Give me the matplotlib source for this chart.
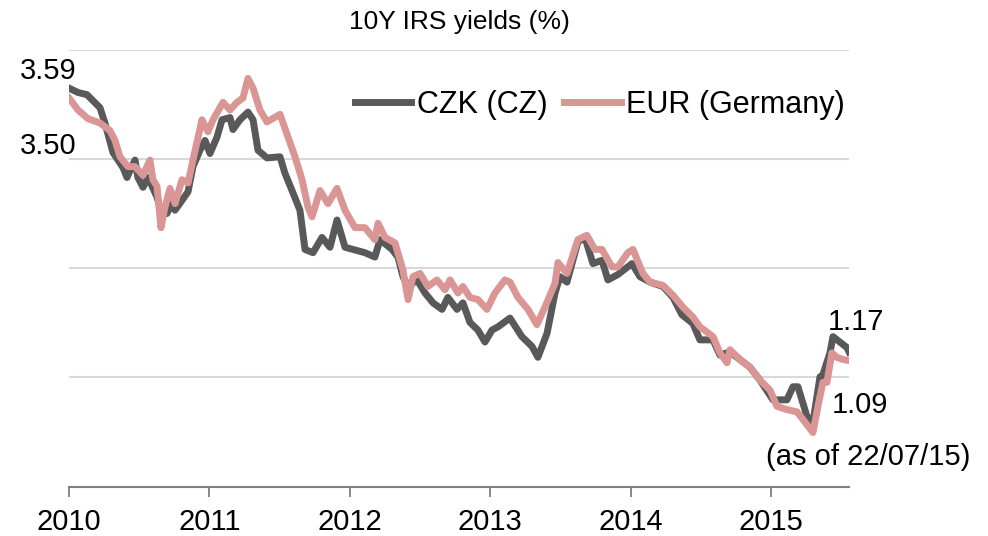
import matplotlib
matplotlib.use("Agg")
import matplotlib.pyplot as plt

plt.rcParams['font.family'] = ['Liberation Sans', 'DejaVu Sans']

# time in years since 1 Jan 2010, yields in %
czk_t = [0.000, 0.064, 0.128, 0.221, 0.256, 0.313, 0.385, 0.413, 0.470, 0.491,
         0.527, 0.563, 0.627, 0.662, 0.698, 0.734, 0.755, 0.805, 0.848, 0.883,
         0.933, 0.969, 1.004, 1.054, 1.090, 1.147, 1.168, 1.218, 1.275, 1.311,
         1.346, 1.410, 1.503, 1.538, 1.595, 1.645, 1.681, 1.738, 1.802, 1.859,
         1.909, 1.966, 2.023, 2.108, 2.179, 2.215, 2.301, 2.343, 2.379, 2.415,
         2.479, 2.536, 2.593, 2.657, 2.699, 2.764, 2.806, 2.856, 2.913, 2.963,
         3.013, 3.056, 3.141, 3.226, 3.298, 3.340, 3.405, 3.462, 3.497, 3.547,
         3.625, 3.675, 3.732, 3.796, 3.839, 3.910, 4.010, 4.067, 4.138, 4.231,
         4.302, 4.366, 4.444, 4.494, 4.587, 4.637, 4.708, 4.779, 4.850, 4.922,
         5.014, 5.114, 5.157, 5.192, 5.256, 5.299, 5.349, 5.370, 5.420, 5.442,
         5.491, 5.541, 5.556]
czk_v = [3.59, 3.55, 3.53, 3.41, 3.27, 3.00, 2.86, 2.77, 2.93, 2.77,
         2.68, 2.77, 2.59, 2.43, 2.44, 2.54, 2.47, 2.56, 2.64, 2.87,
         3.02, 3.11, 2.99, 3.14, 3.30, 3.32, 3.21, 3.30, 3.37, 3.30,
         3.02, 2.95, 2.96, 2.81, 2.63, 2.47, 2.11, 2.08, 2.22, 2.13,
         2.38, 2.13, 2.11, 2.08, 2.04, 2.20, 2.11, 2.04, 1.86, 1.77,
         1.83, 1.71, 1.62, 1.56, 1.67, 1.56, 1.62, 1.44, 1.37, 1.26,
         1.37, 1.40, 1.48, 1.31, 1.22, 1.12, 1.34, 1.71, 1.86, 1.81,
         2.18, 2.22, 1.98, 2.01, 1.83, 1.88, 1.98, 1.86, 1.81, 1.77,
         1.67, 1.51, 1.43, 1.28, 1.28, 1.14, 1.17, 1.10, 1.03, 0.91,
         0.73, 0.73, 0.85, 0.85, 0.58, 0.52, 0.94, 0.96, 1.16, 1.31,
         1.26, 1.21, 1.17]

eur_t = [0.000, 0.064, 0.135, 0.221, 0.292, 0.328, 0.363, 0.420, 0.470, 0.527,
         0.577, 0.598, 0.627, 0.655, 0.684, 0.719, 0.755, 0.805, 0.848, 0.883,
         0.947, 0.990, 1.026, 1.097, 1.147, 1.197, 1.239, 1.275, 1.311, 1.360,
         1.410, 1.503, 1.560, 1.610, 1.660, 1.702, 1.731, 1.788, 1.845, 1.909,
         1.966, 2.037, 2.108, 2.179, 2.201, 2.251, 2.322, 2.379, 2.415, 2.450,
         2.500, 2.557, 2.621, 2.678, 2.714, 2.771, 2.806, 2.856, 2.913, 2.977,
         3.034, 3.105, 3.141, 3.198, 3.269, 3.333, 3.390, 3.462, 3.483, 3.547,
         3.625, 3.689, 3.746, 3.796, 3.868, 3.910, 3.981, 4.017, 4.088, 4.138,
         4.231, 4.302, 4.373, 4.444, 4.494, 4.587, 4.637, 4.687, 4.708, 4.779,
         4.850, 4.922, 4.993, 5.043, 5.114, 5.185, 5.228, 5.299, 5.335, 5.370,
         5.399, 5.434, 5.470, 5.513, 5.556]
eur_v = [3.50, 3.39, 3.31, 3.27, 3.20, 3.11, 2.96, 2.87, 2.87, 2.79,
         2.93, 2.75, 2.69, 2.31, 2.50, 2.67, 2.53, 2.75, 2.72, 2.93,
         3.30, 3.19, 3.30, 3.46, 3.39, 3.46, 3.50, 3.68, 3.59, 3.39,
         3.28, 3.35, 3.14, 2.96, 2.75, 2.50, 2.41, 2.65, 2.53, 2.67,
         2.47, 2.31, 2.31, 2.20, 2.35, 2.22, 2.17, 1.92, 1.65, 1.86,
         1.89, 1.77, 1.83, 1.74, 1.83, 1.71, 1.77, 1.67, 1.65, 1.56,
         1.71, 1.83, 1.81, 1.67, 1.56, 1.42, 1.58, 1.80, 1.99, 1.89,
         2.20, 2.24, 2.11, 2.11, 1.95, 1.95, 2.08, 2.11, 1.89, 1.81,
         1.78, 1.69, 1.58, 1.49, 1.40, 1.31, 1.16, 1.07, 1.19, 1.10,
         1.03, 0.91, 0.82, 0.67, 0.64, 0.62, 0.55, 0.43, 0.67, 0.89,
         0.89, 1.16, 1.12, 1.10, 1.09]

years = [2010, 2011, 2012, 2013, 2014, 2015]
start_year = 2010
end_t = 5.556

fig = plt.figure(figsize=(9.88, 5.36), dpi=100)
ax = fig.add_axes([69/988, 1 - 487/536, 780/988, 437/536])

ax.plot([start_year + t for t in czk_t], czk_v, color='#595959', lw=5,
        solid_joinstyle='round', label='CZK (CZ)', zorder=3)
ax.plot([start_year + t for t in eur_t], eur_v, color='#d99694', lw=5,
        solid_joinstyle='round', label='EUR (Germany)', zorder=4)

ax.set_xlim(start_year, start_year + end_t)
ax.set_ylim(-0.07, 3.94)
ax.set_yticks([0.94, 1.94, 2.94, 3.94])
ax.yaxis.grid(True, color='#d9d9d9', lw=1.5)
ax.tick_params(axis='y', left=False, labelleft=False)
ax.set_xticks(years)
ax.set_xticklabels([str(y) for y in years])
ax.tick_params(axis='x', direction='out', length=7, width=1.3, color='#7f7f7f',
               labelsize=21, pad=8)
for s in ['top', 'right', 'left']:
    ax.spines[s].set_visible(False)
ax.spines['bottom'].set_color('#7f7f7f')
ax.spines['bottom'].set_linewidth(1.5)
ax.set_axisbelow(True)

fig.text(459/988, 1 - 22/536, '10Y IRS yields (%)', ha='center', va='center', fontsize=19)

ax.legend(loc='center right', bbox_to_anchor=(845/988, 1 - 105/536),
          bbox_transform=fig.transFigure, ncol=2, frameon=False, fontsize=22,
          handlelength=1.85, handletextpad=0.18, columnspacing=0.55,
          borderpad=0, borderaxespad=0)

fig.text(20/988, 1 - 71/536, '3.59', ha='left', va='center', fontsize=21)
fig.text(20/988, 1 - 146/536, '3.50', ha='left', va='center', fontsize=21)
fig.text(828/988, 1 - 322/536, '1.17', ha='left', va='center', fontsize=21)
fig.text(832/988, 1 - 405/536, '1.09', ha='left', va='center', fontsize=21)
fig.text(766/988, 1 - 457/536, '(as of 22/07/15)', ha='left', va='center', fontsize=21)

fig.savefig('out.png', dpi=100)
